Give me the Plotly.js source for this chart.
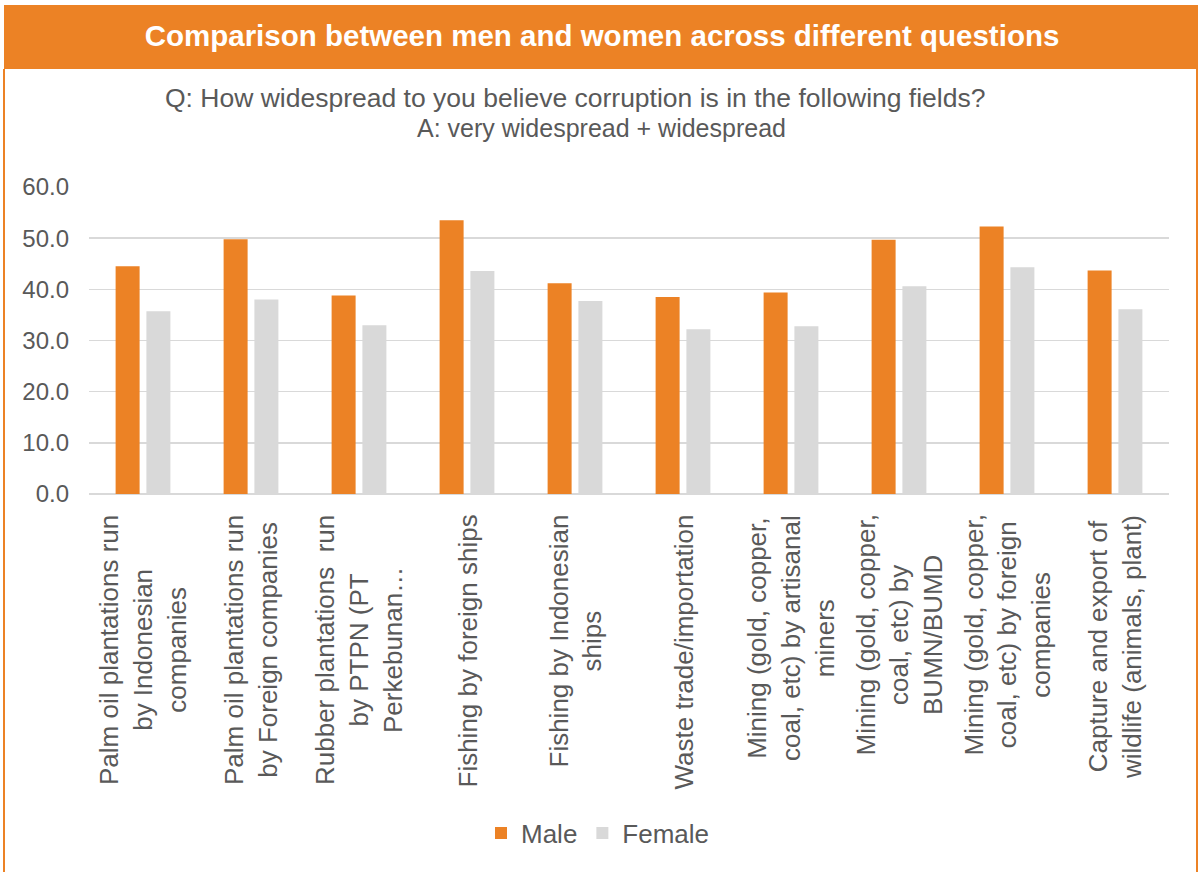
<!DOCTYPE html>
<html>
<head>
<meta charset="utf-8">
<script src="https://cdn.plot.ly/plotly-3.0.1.min.js"></script>
<style>
  html, body { margin: 0; padding: 0; background: #ffffff; }
  #chart { width: 1199px; height: 872px; }
</style>
</head>
<body>
<div id="chart"></div>
<script>
// ---- data ----
const categories = [
  "Palm oil plantations run<br>by Indonesian<br>companies",
  "Palm oil plantations run<br>by Foreign companies",
  "Rubber plantations  run<br>by PTPN (PT<br>Perkebunan…",
  "Fishing by foreign ships",
  "Fishing by Indonesian<br>ships",
  "Waste trade/importation",
  "Mining (gold, copper,<br>coal, etc) by artisanal<br>miners",
  "Mining (gold, copper,<br>coal, etc) by<br>BUMN/BUMD",
  "Mining (gold, copper,<br>coal, etc) by foreign<br>companies",
  "Capture and export of<br>wildlife (animals, plant)"
];
const maleValues   = [44.5, 49.8, 38.8, 53.5, 41.2, 38.5, 39.4, 49.7, 52.3, 43.7];
const femaleValues = [35.7, 38.0, 33.0, 43.6, 37.7, 32.2, 32.8, 40.6, 44.3, 36.1];
const seriesNames = ["Male", "Female"];
const yTicks = [0, 10, 20, 30, 40, 50, 60];
const headerTitle = "Comparison between men and women across different questions";
const subtitleLines = [
  "Q: How widespread to you believe corruption is in the following fields?",
  "A: very widespread + widespread"
];

// ---- layout helpers (pixel -> paper) ----
const W = 1199, H = 872;
const mL = 89, mR = 30, mT = 187, mB = 378;
const pw = W - mL - mR, ph = H - mT - mB;
const px = x => (x - mL) / pw;
const py = y => (H - mB - y) / ph;

const ORANGE = "#EC8225";
const GREY = "#D9D9D9";
const TXT = "#595959";
const FONT = "Liberation Sans, Arial, sans-serif";

const traces = [
  { type: "bar", name: seriesNames[0], x: categories, y: maleValues,
    marker: { color: ORANGE } },
  { type: "bar", name: seriesNames[1], x: categories, y: femaleValues,
    marker: { color: GREY } }
];

const annotations = categories.map(c => ({
  x: c, xref: "x", y: py(513), yref: "paper",
  text: c, textangle: -90, showarrow: false,
  xanchor: "center", yanchor: "top", align: "center",
  font: { family: FONT, size: 26, color: TXT }
}));
annotations.push({
  x: px(575), xref: "paper", y: py(98), yref: "paper",
  text: subtitleLines[0], showarrow: false, xanchor: "center", yanchor: "middle",
  font: { family: FONT, size: 26.5, color: TXT }
});
annotations.push({
  x: px(601), xref: "paper", y: py(128), yref: "paper",
  text: subtitleLines[1], showarrow: false, xanchor: "center", yanchor: "middle",
  font: { family: FONT, size: 25, color: TXT }
});

const shapes = [
  { type: "rect", xref: "paper", yref: "paper", x0: px(4), x1: px(1198), y0: py(69), y1: py(5),
    fillcolor: ORANGE, line: { width: 0 }, layer: "below" },
  { type: "line", xref: "paper", yref: "paper", x0: px(4), x1: px(4), y0: py(69), y1: py(872),
    line: { color: ORANGE, width: 2 } },
  { type: "line", xref: "paper", yref: "paper", x0: px(1197), x1: px(1197), y0: py(69), y1: py(872),
    line: { color: ORANGE, width: 2 } }
];

const layout = {
  width: W, height: H,
  margin: { l: mL, r: mR, t: mT, b: mB, pad: 0 },
  paper_bgcolor: "#ffffff", plot_bgcolor: "#ffffff",
  font: { family: FONT, color: TXT },
  title: {
    text: "<b>" + headerTitle + "</b>",
    x: 602 / W, xanchor: "center", y: 1 - 36 / H, yanchor: "middle",
    font: { family: FONT, size: 29.5, color: "#ffffff" }
  },
  barmode: "group", bargap: 0.43, bargroupgap: 0.22,
  xaxis: { showticklabels: false, showgrid: false, zeroline: false, showline: false, ticks: "" },
  yaxis: {
    range: [0, 60], tickvals: yTicks, tickformat: ".1f",
    showgrid: true, gridcolor: GREY, gridwidth: 1.5,
    zeroline: true, zerolinecolor: GREY, zerolinewidth: 1.5,
    showline: false, ticks: "", ticklabelstandoff: 19,
    tickfont: { family: FONT, size: 24, color: TXT }
  },
  showlegend: true,
  legend: {
    orientation: "h", x: px(598), xanchor: "center", y: py(833), yanchor: "middle",
    font: { family: FONT, size: 26, color: TXT }, itemwidth: 30, traceorder: "normal"
  },
  annotations: annotations,
  shapes: shapes
};

Plotly.newPlot("chart", traces, layout, { staticPlot: true, displayModeBar: false });
</script>
</body>
</html>
